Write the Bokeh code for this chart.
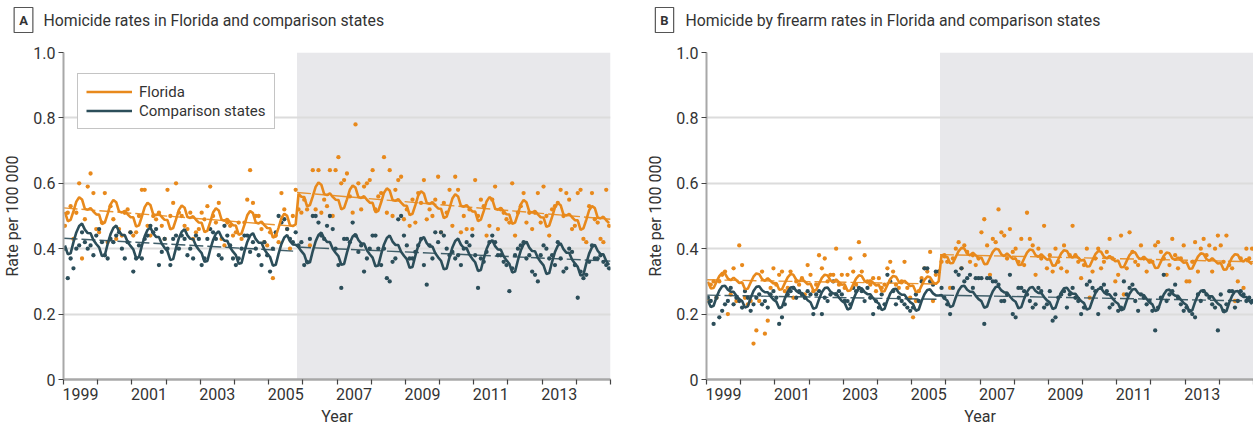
from bokeh.plotting import figure
from bokeh.layouts import row, column
from bokeh.models import Range1d, FixedTicker, BoxAnnotation, Label, Legend, LegendItem
from bokeh.embed import file_html
from bokeh.resources import INLINE

# ---------------- data ----------------
YEARS = list(range(1999, 2016))            # year boundaries (tick marks)
LABEL_YEARS = [1999, 2001, 2003, 2005, 2007, 2009, 2011, 2013]
Y_TICKS = [0, 0.2, 0.4, 0.6, 0.8, 1.0]
Y_LABELS = ["0", "0.2", "0.4", "0.6", "0.8", "1.0"]
START_YEAR = 1999
LAW_DATE = 2005.83                          # Stand Your Ground law (Oct 2005)
POST_INDEX = 82                             # first post-law month (Nov 2005)
TITLE_A = "Homicide rates in Florida and comparison states"
TITLE_B = "Homicide by firearm rates in Florida and comparison states"
SERIES_NAMES = ["Florida", "Comparison states"]

# Panel A: homicide rates (monthly, Jan 1999 - Dec 2014)
FL_A = [
    0.47, 0.51, 0.53, 0.43, 0.51, 0.60, 0.37, 0.49, 0.59, 0.63, 0.57, 0.46,
    0.45, 0.48, 0.57, 0.42, 0.53, 0.49, 0.43, 0.46, 0.44, 0.51, 0.52, 0.45,
    0.44, 0.45, 0.50, 0.58, 0.58, 0.47, 0.44, 0.50, 0.49, 0.51, 0.47, 0.43,
    0.58, 0.50, 0.54, 0.60, 0.51, 0.50, 0.47, 0.46, 0.51, 0.43, 0.45, 0.46,
    0.51, 0.49, 0.53, 0.59, 0.50, 0.48, 0.54, 0.43, 0.41, 0.48, 0.47, 0.44,
    0.45, 0.48, 0.43, 0.48, 0.55, 0.64, 0.54, 0.50, 0.50, 0.46, 0.42, 0.41,
    0.45, 0.31, 0.44, 0.42, 0.57, 0.52, 0.46, 0.40, 0.50, 0.58, 0.52, 0.51,
    0.55, 0.52, 0.41, 0.64, 0.52, 0.64, 0.51, 0.55, 0.53, 0.64, 0.50, 0.64,
    0.68, 0.60, 0.61, 0.63, 0.56, 0.51, 0.78, 0.60, 0.52, 0.59, 0.60, 0.61,
    0.64, 0.52, 0.56, 0.57, 0.68, 0.51, 0.64, 0.50, 0.58, 0.61, 0.62, 0.49,
    0.52, 0.47, 0.55, 0.48, 0.57, 0.54, 0.61, 0.49, 0.52, 0.50, 0.55, 0.62,
    0.45, 0.54, 0.51, 0.58, 0.47, 0.62, 0.58, 0.45, 0.50, 0.46, 0.52, 0.46,
    0.61, 0.50, 0.55, 0.53, 0.44, 0.47, 0.55, 0.59, 0.46, 0.52, 0.51, 0.49,
    0.48, 0.60, 0.44, 0.51, 0.53, 0.57, 0.48, 0.51, 0.46, 0.51, 0.57, 0.48,
    0.59, 0.50, 0.44, 0.52, 0.53, 0.54, 0.58, 0.50, 0.57, 0.55, 0.46, 0.47,
    0.57, 0.58, 0.43, 0.42, 0.53, 0.57, 0.49, 0.48, 0.43, 0.42, 0.58, 0.47,
]
CS_A = [
    0.40, 0.31, 0.37, 0.34, 0.40, 0.41, 0.45, 0.42, 0.40, 0.41, 0.38, 0.44,
    0.46, 0.42, 0.38, 0.37, 0.43, 0.42, 0.44, 0.45, 0.40, 0.37, 0.42, 0.45,
    0.33, 0.37, 0.41, 0.37, 0.43, 0.44, 0.47, 0.45, 0.46, 0.35, 0.39, 0.43,
    0.40, 0.35, 0.43, 0.44, 0.40, 0.44, 0.43, 0.38, 0.40, 0.37, 0.44, 0.43,
    0.35, 0.37, 0.43, 0.46, 0.45, 0.43, 0.38, 0.37, 0.47, 0.44, 0.41, 0.37,
    0.35, 0.37, 0.40, 0.44, 0.44, 0.39, 0.42, 0.40, 0.38, 0.35, 0.42, 0.38,
    0.33, 0.40, 0.45, 0.50, 0.48, 0.49, 0.46, 0.43, 0.42, 0.45, 0.41, 0.42,
    0.35, 0.36, 0.43, 0.50, 0.50, 0.48, 0.44, 0.43, 0.47, 0.50, 0.46, 0.40,
    0.35, 0.28, 0.43, 0.43, 0.42, 0.48, 0.44, 0.39, 0.41, 0.33, 0.37, 0.40,
    0.44, 0.44, 0.40, 0.35, 0.40, 0.31, 0.30, 0.36, 0.37, 0.49, 0.50, 0.44,
    0.41, 0.37, 0.37, 0.39, 0.41, 0.43, 0.35, 0.29, 0.41, 0.37, 0.45, 0.42,
    0.45, 0.44, 0.40, 0.38, 0.39, 0.37, 0.38, 0.35, 0.40, 0.42, 0.41, 0.44,
    0.38, 0.28, 0.37, 0.36, 0.39, 0.42, 0.44, 0.42, 0.38, 0.38, 0.36, 0.35,
    0.27, 0.34, 0.38, 0.40, 0.41, 0.42, 0.37, 0.38, 0.33, 0.32, 0.30, 0.38,
    0.41, 0.40, 0.37, 0.38, 0.35, 0.42, 0.37, 0.33, 0.34, 0.40, 0.39, 0.35,
    0.25, 0.33, 0.31, 0.32, 0.36, 0.41, 0.37, 0.37, 0.38, 0.36, 0.35, 0.34,
]
# Panel B: homicide by firearm rates
FL_B = [
    0.24, 0.29, 0.30, 0.25, 0.30, 0.32, 0.33, 0.20, 0.26, 0.34, 0.24, 0.41,
    0.35, 0.25, 0.23, 0.24, 0.11, 0.15, 0.24, 0.33, 0.14, 0.18, 0.28, 0.34,
    0.29, 0.32, 0.33, 0.27, 0.28, 0.33, 0.25, 0.30, 0.29, 0.31, 0.26, 0.35,
    0.32, 0.27, 0.29, 0.38, 0.34, 0.37, 0.30, 0.32, 0.32, 0.40, 0.29, 0.32,
    0.28, 0.32, 0.37, 0.33, 0.29, 0.42, 0.33, 0.38, 0.30, 0.29, 0.31, 0.27,
    0.31, 0.28, 0.29, 0.34, 0.36, 0.33, 0.29, 0.28, 0.30, 0.36, 0.28, 0.25,
    0.19, 0.24, 0.27, 0.31, 0.34, 0.33, 0.39, 0.24, 0.32, 0.33, 0.36, 0.38,
    0.36, 0.28, 0.37, 0.40, 0.42, 0.34, 0.41, 0.39, 0.36, 0.38, 0.35, 0.37,
    0.45, 0.49, 0.41, 0.32, 0.43, 0.42, 0.52, 0.45, 0.44, 0.37, 0.46, 0.39,
    0.40, 0.36, 0.43, 0.35, 0.51, 0.43, 0.41, 0.32, 0.40, 0.37, 0.47, 0.34,
    0.38, 0.33, 0.40, 0.36, 0.34, 0.41, 0.33, 0.38, 0.47, 0.38, 0.36, 0.31,
    0.35, 0.40, 0.25, 0.33, 0.37, 0.40, 0.34, 0.36, 0.39, 0.43, 0.37, 0.30,
    0.32, 0.44, 0.26, 0.34, 0.45, 0.39, 0.36, 0.35, 0.41, 0.37, 0.33, 0.36,
    0.36, 0.41, 0.42, 0.39, 0.37, 0.32, 0.35, 0.43, 0.38, 0.34, 0.37, 0.41,
    0.30, 0.30, 0.36, 0.42, 0.33, 0.40, 0.43, 0.38, 0.41, 0.33, 0.40, 0.44,
    0.41, 0.36, 0.44, 0.35, 0.34, 0.24, 0.30, 0.37, 0.28, 0.40, 0.37, 0.40,
]
CS_B = [
    0.25, 0.24, 0.17, 0.25, 0.19, 0.21, 0.23, 0.24, 0.28, 0.23, 0.25, 0.24,
    0.22, 0.27, 0.25, 0.21, 0.23, 0.25, 0.26, 0.23, 0.24, 0.22, 0.26, 0.27,
    0.25, 0.17, 0.19, 0.23, 0.26, 0.27, 0.28, 0.25, 0.27, 0.26, 0.25, 0.27,
    0.26, 0.20, 0.26, 0.27, 0.20, 0.25, 0.24, 0.26, 0.30, 0.26, 0.27, 0.26,
    0.24, 0.24, 0.23, 0.28, 0.27, 0.28, 0.27, 0.24, 0.28, 0.25, 0.20, 0.24,
    0.22, 0.26, 0.23, 0.32, 0.30, 0.27, 0.23, 0.25, 0.24, 0.23, 0.22, 0.21,
    0.22, 0.26, 0.24, 0.30, 0.34, 0.34, 0.30, 0.29, 0.33, 0.33, 0.28, 0.25,
    0.23, 0.20, 0.28, 0.33, 0.32, 0.34, 0.30, 0.31, 0.32, 0.28, 0.31, 0.31,
    0.31, 0.17, 0.31, 0.31, 0.30, 0.30, 0.29, 0.24, 0.24, 0.26, 0.32, 0.20,
    0.19, 0.28, 0.28, 0.27, 0.26, 0.24, 0.22, 0.23, 0.28, 0.27, 0.22, 0.23,
    0.27, 0.18, 0.19, 0.25, 0.26, 0.27, 0.22, 0.26, 0.28, 0.25, 0.24, 0.20,
    0.22, 0.29, 0.30, 0.28, 0.27, 0.20, 0.28, 0.29, 0.27, 0.22, 0.23, 0.26,
    0.21, 0.22, 0.30, 0.26, 0.28, 0.29, 0.24, 0.21, 0.26, 0.25, 0.23, 0.24,
    0.21, 0.15, 0.22, 0.25, 0.32, 0.24, 0.26, 0.27, 0.29, 0.25, 0.23, 0.21,
    0.22, 0.21, 0.20, 0.19, 0.26, 0.24, 0.27, 0.26, 0.25, 0.23, 0.22, 0.15,
    0.26, 0.21, 0.23, 0.27, 0.27, 0.22, 0.24, 0.27, 0.26, 0.24, 0.25, 0.24,
]

# fitted segmented-regression models: trend values at period boundaries + seasonal effects
FL_A_PRE, FL_A_POST = (0.525, 0.468), (0.572, 0.490)
CS_A_PRE, CS_A_POST = (0.432, 0.392), (0.405, 0.362)
FL_B_PRE, FL_B_POST = (0.305, 0.292), (0.382, 0.360)
CS_B_PRE, CS_B_POST = (0.258, 0.245), (0.258, 0.240)
FL_A_SEASON = [-0.012, -0.040, -0.035, -0.008, 0.022, 0.036, 0.030, 0.002, 0.000, 0.006, -0.004, -0.012]
CS_A_SEASON = [-0.022, -0.048, -0.045, -0.010, 0.020, 0.040, 0.048, 0.030, 0.020, 0.020, 0.000, -0.012]
FL_B_SEASON = [-0.006, -0.026, -0.025, -0.006, 0.012, 0.022, 0.020, 0.005, 0.000, 0.008, 0.000, -0.008]
CS_B_SEASON = [-0.016, -0.036, -0.032, -0.006, 0.015, 0.028, 0.030, 0.018, 0.012, 0.012, 0.000, -0.010]

# ---------------- styling ----------------
ORANGE = "#E8891C"
SLATE = "#2C4E5A"
SHADE = "#E8E8EB"
GRID = "#DCDCDC"
AXIS = "#A8A8A8"
TXT = "#333333"
FONT = "Roboto"
FRAME_W, FRAME_H = 547, 327
HEADER_H = 44
TOP = 8
BOTTOM = 50
LEFT_A, RIGHT_A = 63, 20
LEFT_B, RIGHT_B = 76, 0
WIDTH_A = LEFT_A + FRAME_W + RIGHT_A
WIDTH_B = LEFT_B + FRAME_W + RIGHT_B


def month_x(i):
    return START_YEAR + (i + 0.5) / 12.0


def trend_at(x, pre, post):
    if x < LAW_DATE:
        return pre[0] + (pre[1] - pre[0]) * (x - START_YEAR) / (LAW_DATE - START_YEAR)
    return post[0] + (post[1] - post[0]) * (x - LAW_DATE) / (YEARS[-1] - LAW_DATE)


def fitted(n, pre, post, season):
    xs, ys = [], []
    for i in range(n):
        x = month_x(i)
        xs.append(x)
        if i < POST_INDEX:
            base = trend_at(min(x, LAW_DATE - 1e-6), pre, post)
        else:
            base = trend_at(max(x, LAW_DATE), pre, post)
        ys.append(base + season[i % 12])
    return xs, ys


def make_header(total_w):
    h = figure(width=total_w, height=HEADER_H, x_range=Range1d(0, total_w),
               y_range=Range1d(0, HEADER_H), output_backend="svg", toolbar_location=None,
               x_axis_location=None, y_axis_location=None, min_border=0,
               outline_line_color=None, background_fill_color="white",
               border_fill_color="white")
    h.grid.visible = False
    panels = (("A", TITLE_A, 23, 43), ("B", TITLE_B, WIDTH_A + 34, WIDTH_A + 55))
    for letter, title, lx, tx in panels:
        h.add_layout(Label(x=lx, y=HEADER_H - 19.5, text=letter, text_font=FONT,
                           text_font_style="bold", text_font_size="13px", text_color=TXT,
                           text_align="center", text_baseline="middle",
                           border_line_color="#555555", border_line_width=1.2,
                           background_fill_color="white", padding=5))
        h.add_layout(Label(x=tx, y=HEADER_H - 19.5, text=title, text_font=FONT,
                           text_font_size="15.8px", text_color=TXT, text_align="left",
                           text_baseline="middle"))
    return h


def make_panel(fl, cs, fl_pre, fl_post, cs_pre, cs_post, fl_season, cs_season,
               left, right, with_legend):
    p = figure(frame_width=FRAME_W, frame_height=FRAME_H,
               x_range=Range1d(START_YEAR, YEARS[-1]), y_range=Range1d(0, 1.0),
               output_backend="svg", toolbar_location=None,
               min_border_left=left, min_border_right=right, min_border_top=TOP,
               min_border_bottom=BOTTOM, outline_line_color=None,
               background_fill_color="white", border_fill_color="white")

    p.add_layout(BoxAnnotation(left=LAW_DATE, fill_color=SHADE, fill_alpha=1.0,
                               line_color=None, level="image"))

    xa = p.xaxis[0]
    xa.ticker = FixedTicker(ticks=[y + 0.5 for y in LABEL_YEARS], minor_ticks=YEARS)
    xa.major_label_overrides = {y + 0.5: str(y) for y in LABEL_YEARS}
    xa.major_tick_line_color = None
    xa.major_tick_out = 5
    xa.major_tick_in = 0
    xa.minor_tick_out = 5
    xa.minor_tick_in = 0
    xa.minor_tick_line_color = "#444444"
    xa.minor_tick_line_width = 1.2
    xa.axis_line_color = AXIS
    xa.axis_line_width = 2.5
    xa.major_label_standoff = 3
    xa.axis_label = "Year"
    xa.axis_label_standoff = 4

    ya = p.yaxis[0]
    ya.ticker = FixedTicker(ticks=Y_TICKS, minor_ticks=[])
    ya.major_label_overrides = dict(zip(Y_TICKS, Y_LABELS))
    ya.major_tick_out = 5
    ya.major_tick_in = 0
    ya.major_tick_line_color = "#444444"
    ya.major_tick_line_width = 1.2
    ya.axis_line_color = AXIS
    ya.axis_line_width = 2
    ya.major_label_standoff = 3
    ya.axis_label = "Rate per 100 000"
    ya.axis_label_standoff = 8

    for ax in (xa, ya):
        ax.major_label_text_font = FONT
        ax.major_label_text_font_size = "16px"
        ax.major_label_text_color = TXT
        ax.axis_label_text_font = FONT
        ax.axis_label_text_font_size = "16px"
        ax.axis_label_text_font_style = "normal"
        ax.axis_label_text_color = TXT

    p.xgrid.visible = False
    p.ygrid.ticker = FixedTicker(ticks=Y_TICKS[1:])
    p.ygrid.grid_line_color = GRID
    p.ygrid.grid_line_width = 2

    xs = [month_x(i) for i in range(len(fl))]

    # observed monthly rates
    p.scatter(xs, fl, size=4.3, color=ORANGE, line_color=None)
    p.scatter(xs, cs, size=4.3, color=SLATE, line_color=None)

    # deseasonalised trend lines
    for pre, post, col in ((fl_pre, fl_post, ORANGE), (cs_pre, cs_post, SLATE)):
        p.line([START_YEAR, LAW_DATE], [pre[0], pre[1]], line_color=col,
               line_width=1.4, line_dash="14 4", line_alpha=0.9)
        p.line([LAW_DATE, YEARS[-1]], [post[0], post[1]], line_color=col,
               line_width=1.4, line_dash="14 4", line_alpha=0.9)

    # fitted seasonal models
    fx, fy = fitted(len(fl), fl_pre, fl_post, fl_season)
    cx, cy = fitted(len(cs), cs_pre, cs_post, cs_season)
    r_fl = p.line(fx, fy, line_color=ORANGE, line_width=2.6)
    r_cs = p.line(cx, cy, line_color=SLATE, line_width=2.6)

    if with_legend:
        leg_h = 8 + 19 + 19 + 8
        leg = Legend(items=[LegendItem(label=SERIES_NAMES[0], renderers=[r_fl]),
                            LegendItem(label=SERIES_NAMES[1], renderers=[r_cs])],
                     location=(14, FRAME_H - 23 - leg_h), orientation="vertical",
                     padding=8, spacing=0, margin=0, label_standoff=7,
                     glyph_width=46, glyph_height=19, label_height=19,
                     label_text_font=FONT, label_text_font_size="15px",
                     label_text_color=TXT, border_line_color="#8A8A8A",
                     border_line_width=1.5, background_fill_color="white",
                     background_fill_alpha=1.0)
        p.add_layout(leg, "center")
    return p


pa = make_panel(FL_A, CS_A, FL_A_PRE, FL_A_POST, CS_A_PRE, CS_A_POST,
                FL_A_SEASON, CS_A_SEASON, LEFT_A, RIGHT_A, True)
pb = make_panel(FL_B, CS_B, FL_B_PRE, FL_B_POST, CS_B_PRE, CS_B_POST,
                FL_B_SEASON, CS_B_SEASON, LEFT_B, RIGHT_B, False)
header = make_header(WIDTH_A + WIDTH_B)

layout = column(header, row(pa, pb))
open("out.html", "w").write(file_html(layout, INLINE))
